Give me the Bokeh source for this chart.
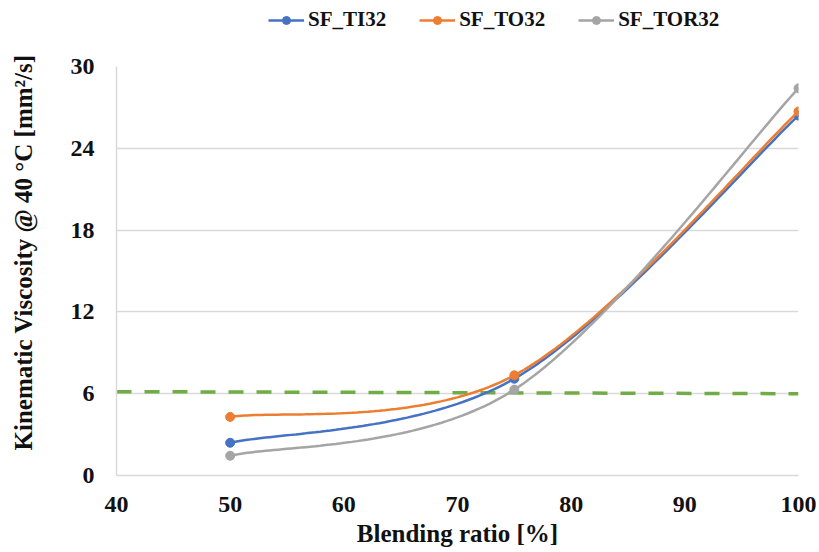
import numpy as np
from bokeh.plotting import figure
from bokeh.layouts import column
from bokeh.models import Range1d, Legend, LegendItem, FixedTicker, Title
from bokeh.embed import file_html
from bokeh.resources import INLINE

# Blending ratio [%] and kinematic viscosity at 40 °C [mm²/s]
blend = [50, 75, 100]
sf_ti32 = [2.4, 7.1, 26.4]
sf_to32 = [4.3, 7.35, 26.7]
sf_tor32 = [1.45, 6.3, 28.4]

# horizontal reference level
ref_x = [40, 100]
ref_y = [6.15, 6.0]

x_ticks = [40, 50, 60, 70, 80, 90, 100]
y_ticks = [0, 6, 12, 18, 24, 30]

FONT = "Liberation Serif"
TEXT = "#111111"


def smooth(xs, ys, n=60):
    """Catmull-Rom style cubic Bezier through the points (spreadsheet 'smoothed line')."""
    pts = np.column_stack([xs, ys]).astype(float)
    ext = np.vstack([pts[0], pts, pts[-1]])
    out = []
    t = np.linspace(0, 1, n)[:, None]
    for i in range(len(pts) - 1):
        p0, p1, p2, p3 = ext[i], ext[i + 1], ext[i + 2], ext[i + 3]
        c1 = p1 + (p2 - p0) / 6.0
        c2 = p2 - (p3 - p1) / 6.0
        seg = ((1 - t) ** 3) * p1 + 3 * ((1 - t) ** 2) * t * c1 + 3 * (1 - t) * t ** 2 * c2 + t ** 3 * p2
        out.append(seg if i == 0 else seg[1:])
    curve = np.vstack(out)
    return curve[:, 0], curve[:, 1]


p = figure(width=819, height=512, output_backend="svg", toolbar_location=None,
           x_range=Range1d(40, 100), y_range=Range1d(0, 30),
           min_border_left=116, min_border_right=21, min_border_top=26, min_border_bottom=77)
p.outline_line_color = None
p.background_fill_color = "white"

p.xgrid.grid_line_color = None
p.ygrid.grid_line_color = "#D9D9D9"
p.ygrid.grid_line_width = 1.3

for ax in (p.xaxis, p.yaxis):
    ax.axis_line_color = "#D9D9D9"
    ax.axis_line_width = 1.5
    ax.major_tick_line_color = None
    ax.minor_tick_line_color = None
    ax.major_label_text_font = FONT
    ax.major_label_text_font_style = "bold"
    ax.major_label_text_font_size = "24px"
    ax.major_label_text_color = TEXT
    ax.axis_label_text_font = FONT
    ax.axis_label_text_font_style = "bold"
    ax.axis_label_text_font_size = "25px"
    ax.axis_label_text_color = TEXT

p.xaxis.ticker = FixedTicker(ticks=x_ticks)
p.yaxis.ticker = FixedTicker(ticks=y_ticks)
p.xaxis.major_label_standoff = 15
p.yaxis.major_label_standoff = 16
p.xaxis.axis_label = "Blending ratio [%]"
p.xaxis.axis_label_standoff = 5

# blank gap between the tick labels and the y-axis title
gap = Title(text=" ", standoff=0, text_font=FONT, text_font_size="25px")
p.add_layout(gap, "left")
# y-axis title, anchored near the bottom of the frame
ytitle = Title(text="Kinematic Viscosity @ 40 °C [mm²/s]", align="left", offset=25,
               standoff=4, text_font=FONT, text_font_style="bold", text_font_size="25px",
               text_color=TEXT)
p.add_layout(ytitle, "left")

p.line(ref_x, ref_y, color="#70AD47", line_width=3.5, line_dash="15 13")

series = [("SF_TI32", sf_ti32, "#4472C4"),
          ("SF_TO32", sf_to32, "#ED7D31"),
          ("SF_TOR32", sf_tor32, "#A5A5A5")]

# strip above the chart that carries the legend
top = figure(width=819, height=40, output_backend="svg", toolbar_location=None,
             x_range=Range1d(200, 201), y_range=Range1d(200, 201),
             x_axis_type=None, y_axis_type=None, min_border=0)
top.outline_line_color = None
top.grid.visible = False

items = []
for name, vals, col in series:
    cx, cy = smooth(blend, vals)
    p.line(cx, cy, color=col, line_width=2.5)
    p.scatter(blend, vals, size=9, color=col, marker="circle")
    # legend keys (their data lie outside the strip's ranges, only the key is drawn)
    kl = top.line(blend, vals, color=col, line_width=2.5)
    ks = top.scatter(blend, vals, size=7, color=col, marker="circle")
    items.append(LegendItem(label=name, renderers=[kl, ks]))

legend = Legend(items=items, orientation="horizontal", location=(152, 8),
                label_text_font="'Liberation Serif', serif", label_text_font_style="bold",
                label_text_font_size="21px",
                label_text_color=TEXT, glyph_width=36, glyph_height=20, label_standoff=4,
                spacing=33, background_fill_alpha=0, border_line_color=None, padding=0, margin=0)
top.add_layout(legend, "center")

open("out.html", "w").write(file_html(column(top, p, spacing=0), INLINE))
